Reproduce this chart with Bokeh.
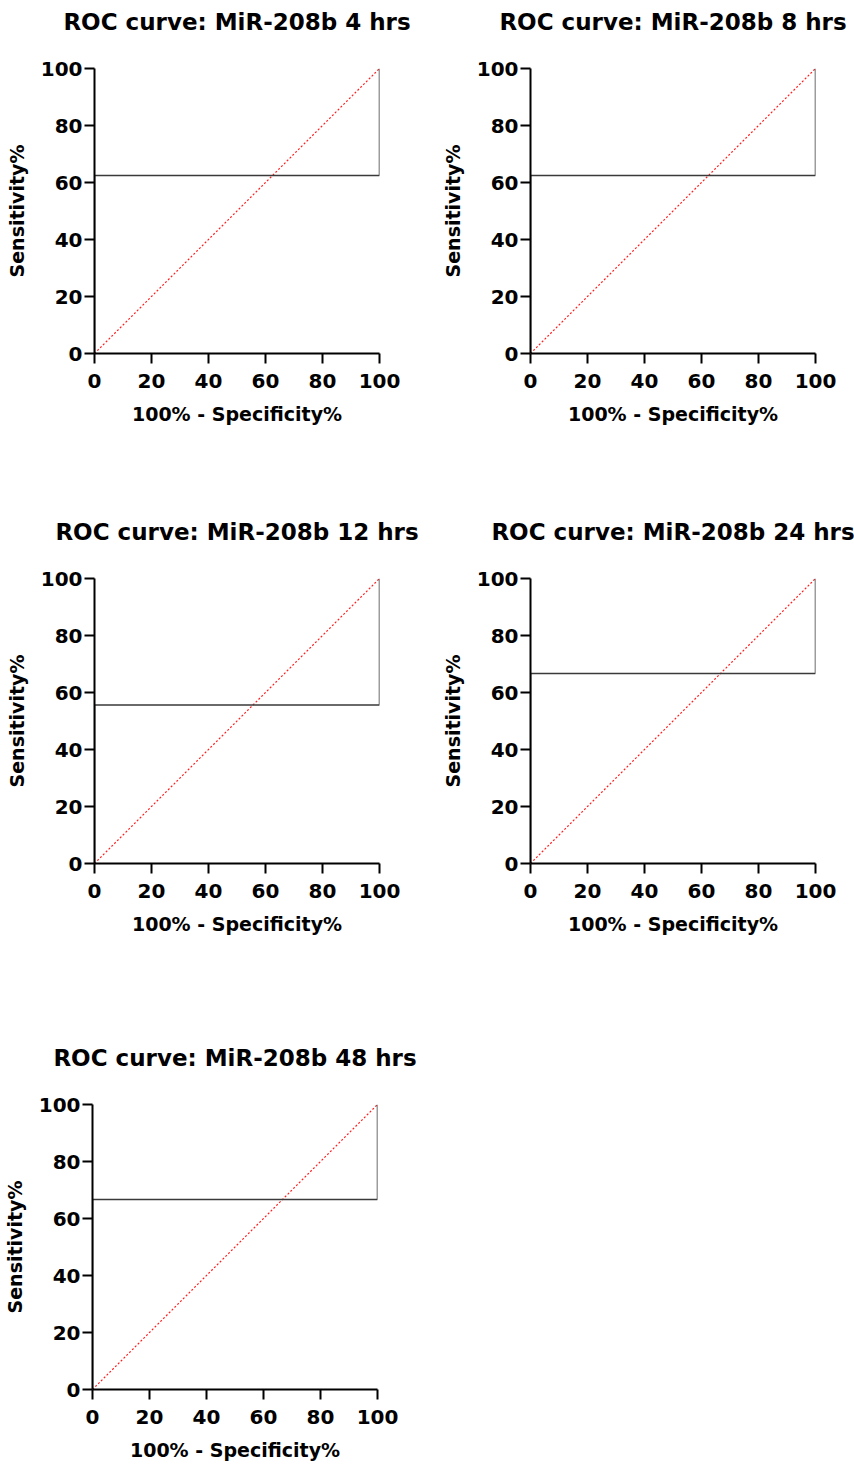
from bokeh.plotting import figure
from bokeh.layouts import column, row
from bokeh.models import FixedTicker, Range1d, Title
from bokeh.embed import file_html
from bokeh.resources import INLINE

titles = ["ROC curve: MiR-208b 4 hrs", "ROC curve: MiR-208b 8 hrs",
          "ROC curve: MiR-208b 12 hrs", "ROC curve: MiR-208b 24 hrs",
          "ROC curve: MiR-208b 48 hrs"]
sensitivity_at_cut = [62.5, 62.5, 55.6, 66.7, 66.7]
roc_fpr = [0, 0, 100, 100]
diag_x = [0, 100]
diag_y = [0, 100]
tick_values = [0, 20, 40, 60, 80, 100]
x_label = "100% - Specificity%"
y_label = "Sensitivity%"

FONT = "DejaVu Sans"

# layout: (left border, right border, top border, bottom border)
geom = [(94, 48, 68, 157), (103, 39, 68, 157),
        (94, 48, 68, 173), (103, 39, 68, 173),
        (92, 50, 68, 79)]
FRAME = 285


def make_panel(i):
    l, r, t, b = geom[i]
    p = figure(width=l + FRAME + r, height=t + FRAME + b,
               frame_width=FRAME, frame_height=FRAME,
               min_border_left=l, min_border_right=r,
               min_border_top=t, min_border_bottom=b,
               x_range=Range1d(0, 100), y_range=Range1d(0, 100),
               output_backend="svg", toolbar_location=None)
    spacer = Title(text=" ", text_font_size="20px", standoff=10)
    p.add_layout(spacer, "above")
    title = Title(text=titles[i], align="center", text_font=FONT,
                  text_font_style="bold", text_font_size="23px",
                  text_color="black", standoff=0)
    p.add_layout(title, "above")
    p.outline_line_color = None
    p.grid.visible = False
    p.background_fill_color = "white"
    p.border_fill_color = "white"
    s = sensitivity_at_cut[i]
    roc_tpr = [0, s, s, 100]
    p.line(diag_x, diag_y, line_color="#ff2020", line_width=1.2,
           line_dash="2 2")
    p.line(roc_fpr, roc_tpr, line_color="#3a3a3a", line_width=1.5)
    for ax in (p.xaxis[0], p.yaxis[0]):
        ax.ticker = FixedTicker(ticks=tick_values)
        ax.minor_tick_line_color = None
        ax.axis_line_width = 2
        ax.axis_line_color = "black"
        ax.major_tick_line_width = 2
        ax.major_tick_line_color = "black"
        ax.major_tick_out = 10
        ax.major_tick_in = 0
        ax.major_label_text_font = FONT
        ax.major_label_text_font_style = "bold"
        ax.major_label_text_font_size = "20px"
        ax.major_label_text_color = "black"
        ax.axis_label_text_font = FONT
        ax.axis_label_text_font_style = "bold"
        ax.axis_label_text_font_size = "19px"
        ax.axis_label_text_color = "black"
    p.xaxis.axis_label = x_label
    p.yaxis.axis_label = y_label
    p.xaxis.major_label_standoff = 10
    p.yaxis.major_label_standoff = 2
    p.xaxis.axis_label_standoff = 12
    p.yaxis.axis_label_standoff = 10
    return p


panels = [make_panel(i) for i in range(5)]
layout = column(row(panels[0], panels[1]), row(panels[2], panels[3]),
                row(panels[4]))

with open("out.html", "w") as f:
    f.write(file_html(layout, INLINE))
